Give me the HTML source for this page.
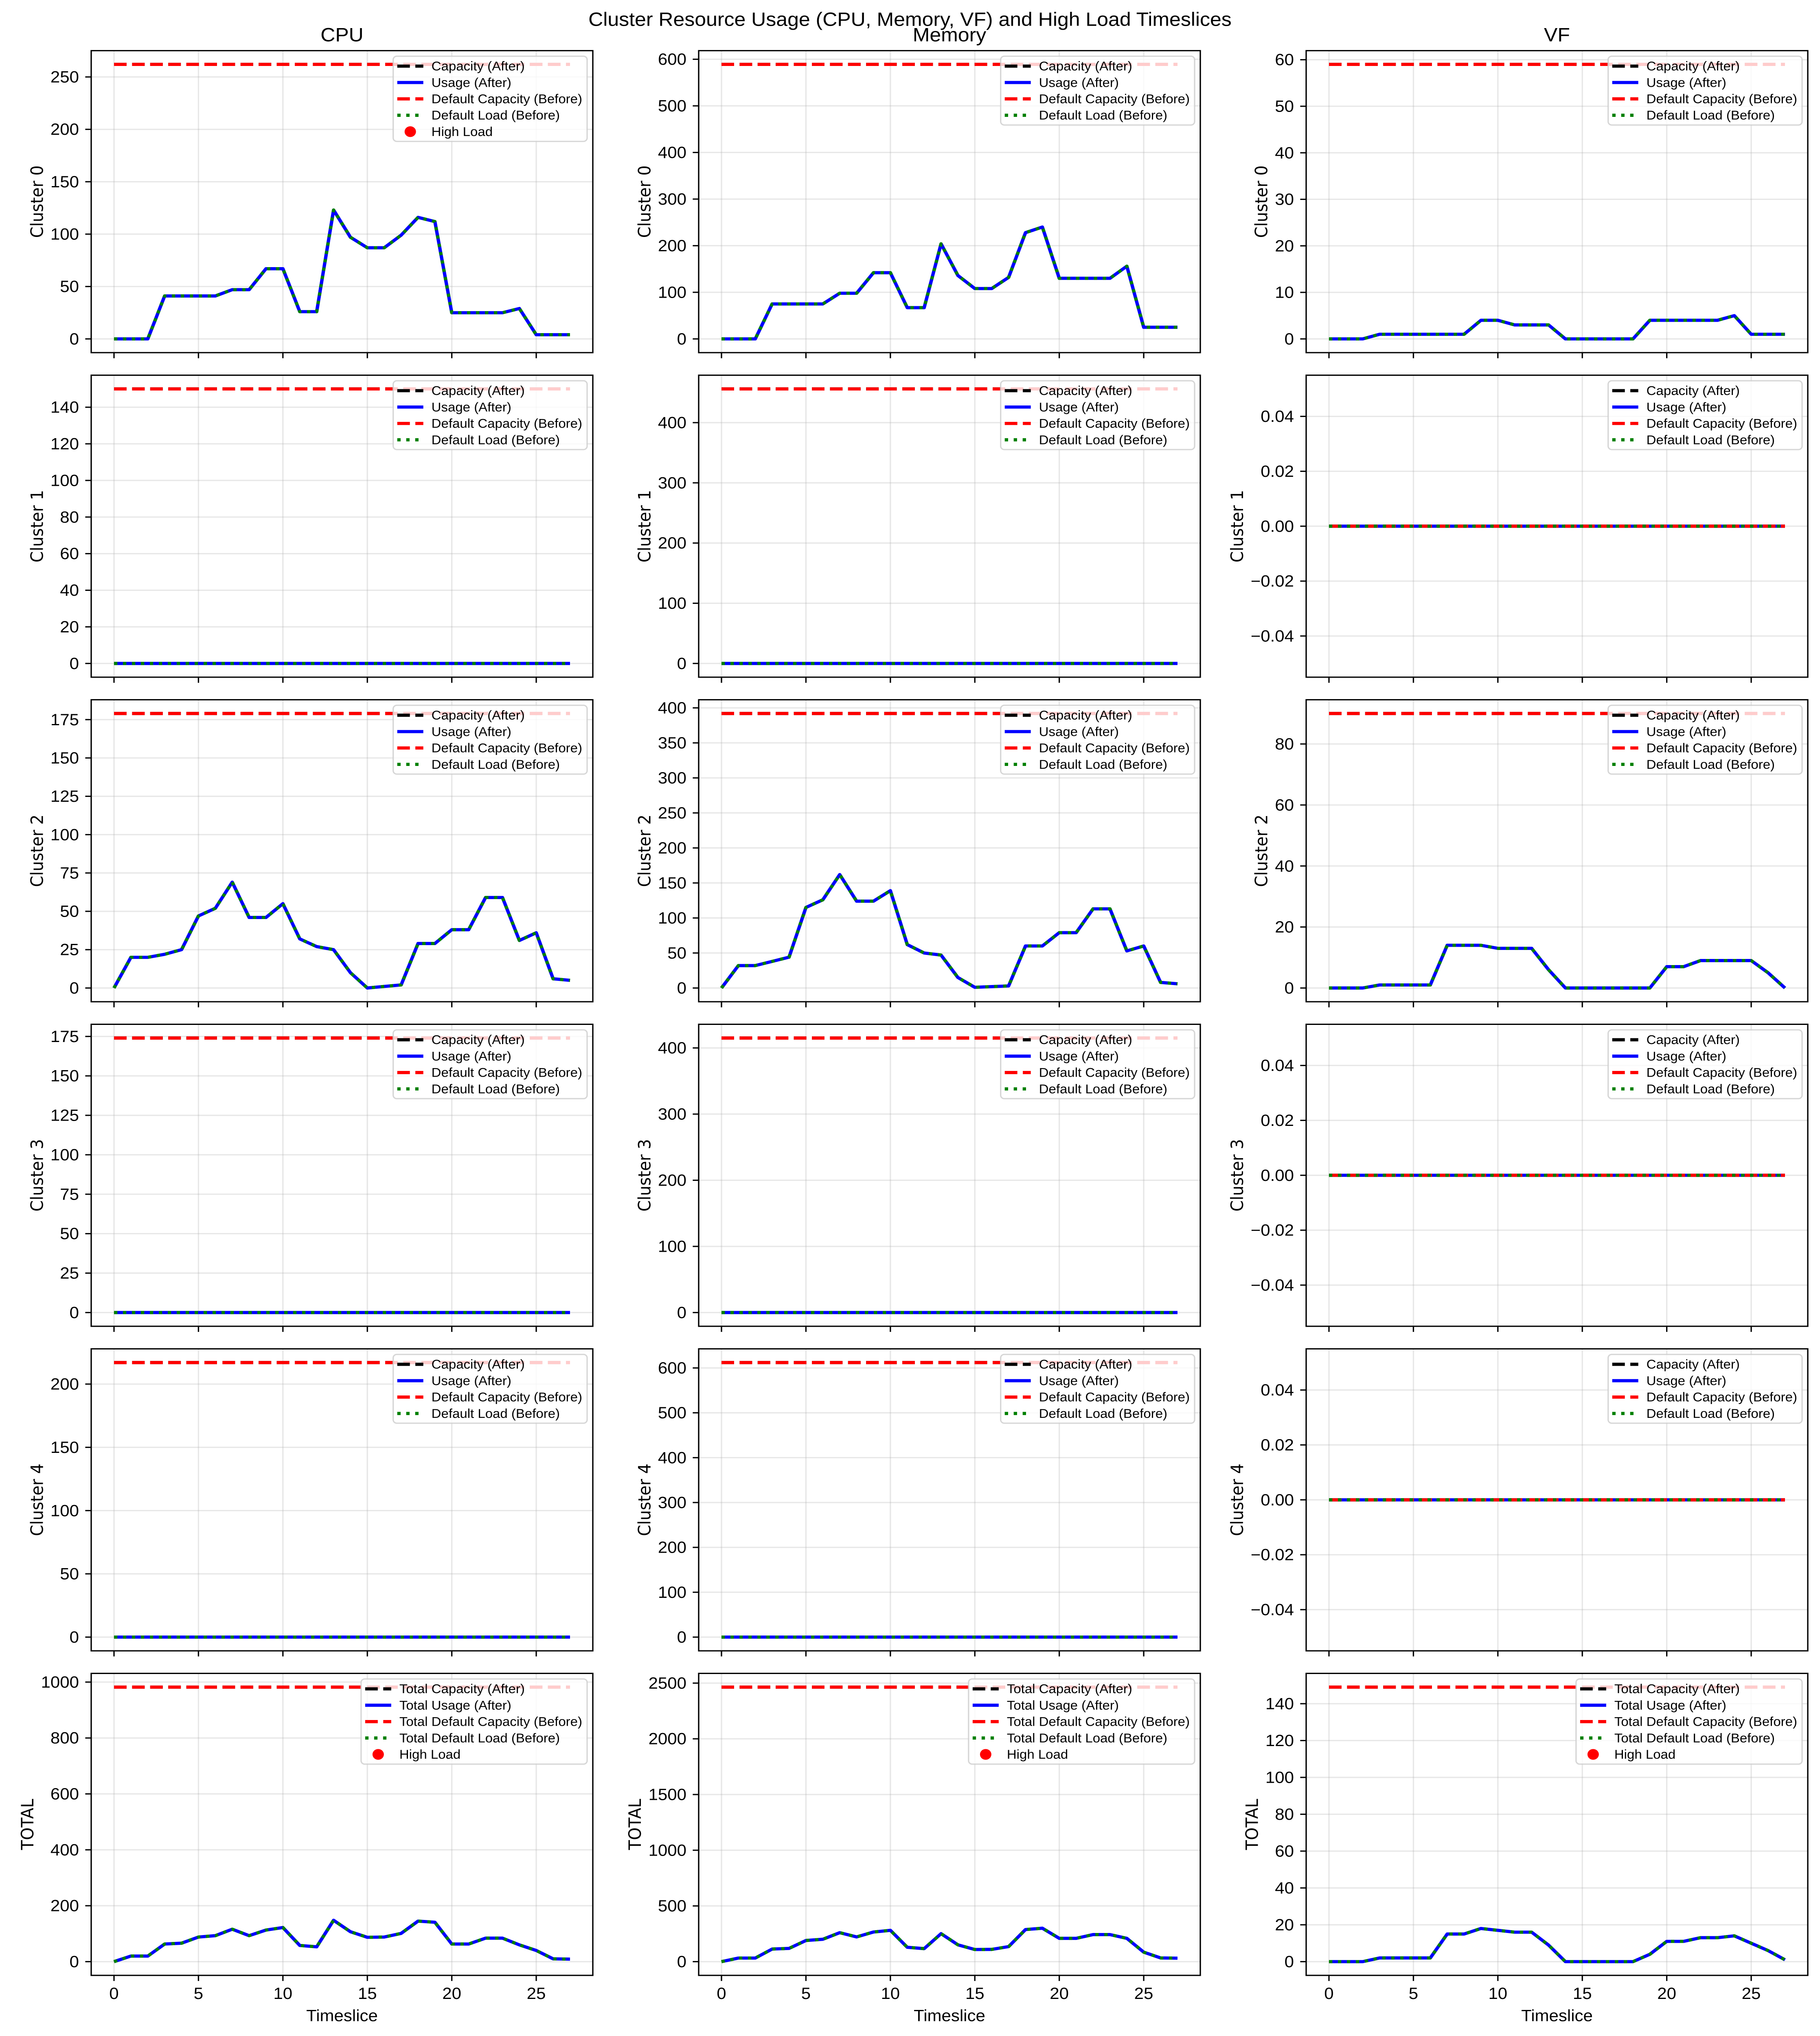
<!DOCTYPE html>
<html><head><meta charset="utf-8">
<style>
html,body{margin:0;padding:0;background:#fff;width:100%;height:100%;overflow:hidden;}
svg{display:block;position:absolute;left:0;top:0;width:100vw;height:100vh;}
.tk{font-family:"Liberation Sans Narrow","Liberation Sans",sans-serif;font-size:42px;fill:#000;}
.lg{font-family:"Liberation Sans Narrow","Liberation Sans",sans-serif;font-size:33px;fill:#000;}
.ttl{font-family:"Liberation Sans Narrow","Liberation Sans",sans-serif;font-size:50px;fill:#000;}
.yl{font-family:"DejaVu Sans","Liberation Sans",sans-serif;font-size:42px;fill:#000;}
</style></head>
<body>
<svg id="fig" xmlns="http://www.w3.org/2000/svg" viewBox="0 0 4470 5306" preserveAspectRatio="none" overflow="hidden">
<rect x="0" y="0" width="4470" height="5306" fill="#fff"/>
<text class="ttl" x="2235" y="51" text-anchor="middle" dominant-baseline="central">Cluster Resource Usage (CPU, Memory, VF) and High Load Timeslices</text>
</svg>
<script>
// ---- data ----
const timeslices = [0,1,2,3,4,5,6,7,8,9,10,11,12,13,14,15,16,17,18,19,20,21,22,23,24,25,26,27];
const resources = ["CPU","Memory","VF"];
const rowLabels = ["Cluster 0","Cluster 1","Cluster 2","Cluster 3","Cluster 4","TOTAL"];
const cpuCapacity = [262,150,179,174,217];
const memCapacity = [589,456,392,415,612];
const vfCapacity = [59,0,90,0,0];
const cpuC0 = [0,0,0,41,41,41,41,47,47,67,67,26,26,123,97,87,87,99,116,112,25,25,25,25,29,4,4,4];
const cpuC2 = [0,20,20,22,25,47,52,69,46,46,55,32,27,25,10,0,1,2,29,29,38,38,59,59,31,36,6,5];
const memC0 = [0,0,0,75,75,75,75,98,98,142,142,67,67,204,136,108,108,132,228,240,130,130,130,130,156,25,25,25];
const memC2 = [0,32,32,38,44,115,126,162,124,124,139,62,50,47,15,1,2,3,60,60,79,79,113,113,53,60,8,6];
const vfC0 = [0,0,0,1,1,1,1,1,1,4,4,3,3,3,0,0,0,0,0,4,4,4,4,4,5,1,1,1];
const vfC2 = [0,0,0,1,1,1,1,14,14,14,13,13,13,6,0,0,0,0,0,0,7,7,9,9,9,9,5,0];
const zeros = [0,0,0,0,0,0,0,0,0,0,0,0,0,0,0,0,0,0,0,0,0,0,0,0,0,0,0,0];
const legendCluster = ["Capacity (After)","Usage (After)","Default Capacity (Before)","Default Load (Before)"];
const legendTotal = ["Total Capacity (After)","Total Usage (After)","Total Default Capacity (Before)","Total Default Load (Before)"];
const highLoadLabel = "High Load";
const xTicks = [0,5,10,15,20,25];

const NS="http://www.w3.org/2000/svg";
const fig=document.getElementById('fig');
function mk(tag,attrs,parent){const e=document.createElementNS(NS,tag);for(const k in attrs)e.setAttribute(k,attrs[k]);(parent||fig).appendChild(e);return e;}
function sum(a,b){return a.map((v,i)=>v+b[i]);}

const usage={CPU:[cpuC0,zeros,cpuC2,zeros,zeros],Memory:[memC0,zeros,memC2,zeros,zeros],VF:[vfC0,zeros,vfC2,zeros,zeros]};
const caps={CPU:cpuCapacity,Memory:memCapacity,VF:vfCapacity};

const colLeft=[224,1716,3208], axW=1232, axH=787, rowTop0=132, rowStep=845.8;
const xmin=-1.35,xmax=28.35;

function niceTicks(lo,hi){
  const raw=(hi-lo)/9;const sc=Math.pow(10,Math.floor(Math.log10(raw)));const r=raw/sc;
  const steps=[1,2,2.5,5,10];let s=10;for(const st of steps){if(st>=r-1e-9){s=st;break;}}
  const step=s*sc;const out=[];
  for(let v=Math.ceil(lo/step-1e-9)*step;v<=hi+1e-9;v+=step)out.push(Math.round(v/step)*step);
  return {ticks:out,step:step};
}
function fmt(v,step){if(step<1){const t=v.toFixed(2);return (Math.abs(v)<1e-12?"0.00":t).replace('-','\u2212');}return String(Math.round(v)).replace('-','\u2212');}

resources.forEach((res,ci)=>{
  const t=mk('text',{class:'ttl',x:colLeft[ci]+axW/2,y:91,'text-anchor':'middle','dominant-baseline':'central'});
  
  
  t.textContent=res;
});

for(let ri=0;ri<6;ri++){
  for(let ci=0;ci<3;ci++){
    const res=resources[ci];
    let use,cap;
    if(ri<5){use=usage[res][ri];cap=caps[res][ri];}
    else{use=sum(usage[res][0],usage[res][2]);cap=caps[res].reduce((a,b)=>a+b,0);}
    const capArr=timeslices.map(()=>cap);
    const L=colLeft[ci],T=rowTop0+ri*rowStep,R=L+axW,B=T+axH;
    let dmin=Math.min(0,...use,cap),dmax=Math.max(...use,cap);
    let lo,hi;
    if(dmax-dmin<1e-12){lo=-0.055;hi=0.055;}else{const r=dmax-dmin;lo=dmin-0.05*r;hi=dmax+0.05*r;}
    const X=v=>L+(v-xmin)/(xmax-xmin)*axW;
    const Y=v=>B-(v-lo)/(hi-lo)*axH;
    const g=mk('g',{});
    
    
    const clipId='c'+ri+'_'+ci;
    const cp=mk('clipPath',{id:clipId},g);mk('rect',{x:L,y:T,width:axW,height:axH},cp);
    const yt=niceTicks(lo,hi);
    xTicks.forEach(v=>{const l=mk('line',{x1:X(v),x2:X(v),y1:T,y2:B,stroke:'#b0b0b0','stroke-opacity':0.3,'stroke-width':3.3},g);
      
      });
    yt.ticks.forEach(v=>{const l=mk('line',{x1:L,x2:R,y1:Y(v),y2:Y(v),stroke:'#b0b0b0','stroke-opacity':0.3,'stroke-width':3.3},g);
      
      });
    const pts=a=>a.map((v,i)=>X(timeslices[i]).toFixed(1)+','+Y(v).toFixed(1)).join(' ');
    const series=[
      {d:capArr,c:'#000',da:'31,13.4',n:'capacity-after-line'},
      {d:use,c:'#0000ff',da:null,n:'usage-after-line'},
      {d:capArr,c:'#ff0000',da:'31,13.4',n:'default-capacity-before-line'},
      {d:use,c:'#008000',da:'8.3,13.7',n:'default-load-before-line'}];
    series.forEach(s=>{
      const p=mk('polyline',{points:pts(s.d),fill:'none',stroke:s.c,'stroke-width':8.3,'stroke-linejoin':'round','clip-path':'url(#'+clipId+')'},g);
      if(s.da)p.setAttribute('stroke-dasharray',s.da);
      
      
    });
    const sp=mk('rect',{x:L,y:T,width:axW,height:axH,fill:'none',stroke:'#000','stroke-width':3.3},g);
    
    
    xTicks.forEach(v=>{
      const tl=mk('line',{x1:X(v),x2:X(v),y1:B,y2:B+14.6,stroke:'#000','stroke-width':3.3},g);
      
      
      if(ri===5){const tx=mk('text',{class:'tk',x:X(v),y:5195,'text-anchor':'middle','dominant-baseline':'central'},g);
        
        
        tx.textContent=String(v);}
    });
    let maxW=0;
    yt.ticks.forEach(v=>{
      const tl=mk('line',{x1:L-14.6,x2:L,y1:Y(v),y2:Y(v),stroke:'#000','stroke-width':3.3},g);
      
      
      const tx=mk('text',{class:'tk',x:L-30,y:Y(v),'text-anchor':'end','dominant-baseline':'central'},g);
      
      
      tx.textContent=fmt(v,yt.step);
      maxW=Math.max(maxW,tx.getComputedTextLength());
    });
    const yx=L-30-maxW-33, yy=T+axH/2;
    const ylab=mk('text',{class:'yl',x:yx,y:yy,'text-anchor':'middle','dominant-baseline':'central',transform:'rotate(-90 '+yx+' '+yy+')'},g);
    
    
    ylab.textContent=rowLabels[ri];
    if(ri===5){const xl=mk('text',{class:'tk',x:L+axW/2,y:5253,'text-anchor':'middle','dominant-baseline':'central'},g);
      
      
      xl.textContent='Timeslice';}
    const labels=(ri===5?legendTotal:legendCluster).slice();
    const hasHigh=(ri===5)||(ri===0&&ci===0);
    if(hasHigh)labels.push(highLoadLabel);
    const lg=mk('g',{},g);
    
    
    const box=mk('rect',{x:0,y:T+14.5,width:10,height:labels.length*42.7+8.5,rx:9,fill:'#fff','fill-opacity':0.8,stroke:'#cccccc','stroke-opacity':0.8,'stroke-width':3.3},lg);
    let tw=0;const texts=[];
    labels.forEach((lab,i)=>{const tx=mk('text',{class:'lg',x:0,y:T+14.5+25.8+42.7*i,'dominant-baseline':'central'},lg);
      
      
      tx.textContent=lab;texts.push(tx);tw=Math.max(tw,tx.getComputedTextLength());});
    const bw=94+tw+12, bl=R-14-bw;
    box.setAttribute('x',bl);box.setAttribute('width',bw);
    texts.forEach(tx=>tx.setAttribute('x',bl+94));
    const hs=[{c:'#000',da:'31,13.4'},{c:'#0000ff',da:null},{c:'#ff0000',da:'31,13.4'},{c:'#008000',da:'8.3,13.7'}];
    labels.forEach((lab,i)=>{
      const cy=T+14.5+25.8+42.7*i;
      if(i<4){const h=mk('line',{x1:bl+10,x2:bl+74,y1:cy,y2:cy,stroke:hs[i].c,'stroke-width':8.3},lg);
        if(hs[i].da)h.setAttribute('stroke-dasharray',hs[i].da);
        
        }
      else{const h=mk('circle',{cx:bl+42,cy:cy,r:14,fill:'#ff0000'},lg);
        
        }
    });
  }
}
</script>
</body></html>
